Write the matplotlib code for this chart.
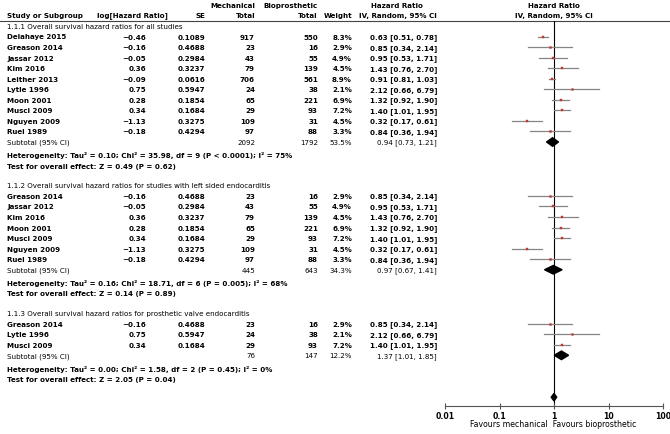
import matplotlib
matplotlib.use("Agg")
import matplotlib.pyplot as plt
import numpy as np

# ---------------- data ----------------
study_names = ["Delahaye 2015", "Greason 2014", "Jassar 2012", "Kim 2016", "Leither 2013",
               "Lytle 1996", "Moon 2001", "Musci 2009", "Nguyen 2009", "Ruel 1989"]
log_hr = [-0.46, -0.16, -0.05, 0.36, -0.09, 0.75, 0.28, 0.34, -1.13, -0.18]
se = [0.1089, 0.4688, 0.2984, 0.3237, 0.0616, 0.5947, 0.1854, 0.1684, 0.3275, 0.4294]
mech_total = [917, 23, 43, 79, 706, 24, 65, 29, 109, 97]
bio_total = [550, 16, 55, 139, 561, 38, 221, 93, 31, 88]
hr = [0.63, 0.85, 0.95, 1.43, 0.91, 2.12, 1.32, 1.40, 0.32, 0.84]
hr_lo = [0.51, 0.34, 0.53, 0.76, 0.81, 0.66, 0.92, 1.01, 0.17, 0.36]
hr_hi = [0.78, 2.14, 1.71, 2.70, 1.03, 6.79, 1.90, 1.95, 0.61, 1.94]

section_titles = ["1.1.1 Overall survival hazard ratios for all studies",
                  "1.1.2 Overall survival hazard ratios for studies with left sided endocarditis",
                  "1.1.3 Overall survival hazard ratios for prosthetic valve endocarditis"]
section_studies = [
    ["Delahaye 2015", "Greason 2014", "Jassar 2012", "Kim 2016", "Leither 2013",
     "Lytle 1996", "Moon 2001", "Musci 2009", "Nguyen 2009", "Ruel 1989"],
    ["Greason 2014", "Jassar 2012", "Kim 2016", "Moon 2001", "Musci 2009", "Nguyen 2009", "Ruel 1989"],
    ["Greason 2014", "Lytle 1996", "Musci 2009"],
]
section_weights = [
    [8.3, 2.9, 4.9, 4.5, 8.9, 2.1, 6.9, 7.2, 4.5, 3.3],
    [2.9, 4.9, 4.5, 6.9, 7.2, 4.5, 3.3],
    [2.9, 2.1, 7.2],
]
sub_mech = [2092, 445, 76]
sub_bio = [1792, 643, 147]
sub_weight = [53.5, 34.3, 12.2]
sub_hr = [0.94, 0.97, 1.37]
sub_lo = [0.73, 0.67, 1.01]
sub_hi = [1.21, 1.41, 1.85]
het_text = ["Heterogeneity: Tau\u00b2 = 0.10; Chi\u00b2 = 35.98, df = 9 (P < 0.0001); I\u00b2 = 75%",
            "Heterogeneity: Tau\u00b2 = 0.16; Chi\u00b2 = 18.71, df = 6 (P = 0.005); I\u00b2 = 68%",
            "Heterogeneity: Tau\u00b2 = 0.00; Chi\u00b2 = 1.58, df = 2 (P = 0.45); I\u00b2 = 0%"]
test_text = ["Test for overall effect: Z = 0.49 (P = 0.62)",
             "Test for overall effect: Z = 0.14 (P = 0.89)",
             "Test for overall effect: Z = 2.05 (P = 0.04)"]
overall_hr, overall_lo, overall_hi = 1.00, 0.89, 1.12
tick_values = [0.01, 0.1, 1, 10, 100]
tick_labels = ["0.01", "0.1", "1", "10", "100"]

# ---------------- layout ----------------
W, H = 670, 435
FS = 5.15
fig = plt.figure(figsize=(W / 100, H / 100), dpi=100)
tx = fig.add_axes([0, 0, 1, 1])
tx.set_xlim(0, W)
tx.set_ylim(H, 0)
tx.axis("off")

X_NAME = 7
X_LOG = 146
X_SE = 205
X_MECH = 255
X_BIO = 318
X_W = 352
X_HR = 437
PLOT_L, PLOT_R = 445, 663
PLOT_T, PLOT_B = 22, 407

ax = fig.add_axes([PLOT_L / W, 1 - PLOT_B / H, (PLOT_R - PLOT_L) / W, (PLOT_B - PLOT_T) / H])
ax.set_xscale("log")
ax.set_xlim(0.01, 100)
ax.set_ylim(PLOT_B, PLOT_T)
for s in ["left", "right", "top"]:
    ax.spines[s].set_visible(False)
ax.spines["bottom"].set_color("#555555")
ax.spines["bottom"].set_linewidth(0.8)
ax.set_yticks([])
ax.set_xticks(tick_values)
ax.set_xticklabels(tick_labels, fontsize=5.6, fontweight="bold")
ax.minorticks_off()
ax.tick_params(axis="x", direction="inout", length=5, width=0.8, color="#555555", pad=1)
ax.patch.set_alpha(0)
ax.axvline(1, color="black", lw=0.8, zorder=1)

def fmt(v):
    return ("\u2212%.2f" % -v) if v < 0 else "%.2f" % v

def txt(x, y, s, ha="left", bold=False, size=FS, color="black"):
    tx.text(x, y, s, ha=ha, va="center", fontsize=size,
            fontweight="bold" if bold else "normal", color=color)

# header
txt(X_MECH, 6, "Mechanical", ha="right", bold=True)
txt(X_BIO, 6, "Bioprosthetic", ha="right", bold=True)
txt(397, 6, "Hazard Ratio", ha="center", bold=True)
txt(554, 6, "Hazard Ratio", ha="center", bold=True)
txt(X_NAME, 16, "Study or Subgroup", bold=True)
txt(97, 16, "log[Hazard Ratio]", bold=True)
txt(X_SE, 16, "SE", ha="right", bold=True)
txt(X_MECH, 16, "Total", ha="right", bold=True)
txt(X_BIO, 16, "Total", ha="right", bold=True)
txt(X_W, 16, "Weight", ha="right", bold=True)
txt(X_HR, 16, "IV, Random, 95% CI", ha="right", bold=True)
txt(554, 16, "IV, Random, 95% CI", ha="center", bold=True)
tx.plot([0, W], [22, 22], color="#444444", lw=0.8)

ROW = 10.55
y = 27
for k, title in enumerate(section_titles):
    txt(X_NAME, y, title)
    y += 10.5
    for name, w in zip(section_studies[k], section_weights[k]):
        i = study_names.index(name)
        txt(X_NAME, y, name, bold=True)
        txt(X_LOG, y, fmt(log_hr[i]), ha="right", bold=True)
        txt(X_SE, y, "%.4f" % se[i], ha="right", bold=True)
        txt(X_MECH, y, str(mech_total[i]), ha="right", bold=True)
        txt(X_BIO, y, str(bio_total[i]), ha="right", bold=True)
        txt(X_W, y, "%.1f%%" % w, ha="right", bold=True)
        txt(X_HR, y, "%.2f [%.2f, %.2f]" % (hr[i], hr_lo[i], hr_hi[i]), ha="right", bold=True)
        ax.plot([hr_lo[i], hr_hi[i]], [y, y], color="#858585", lw=0.9, zorder=2)
        ax.plot([hr[i]], [y], marker="s", ms=1.1 + 0.09 * w, color="#c0392b",
                mec="#c0392b", mew=0.3, zorder=3)
        y += ROW
    txt(X_NAME, y, "Subtotal (95% CI)")
    txt(X_MECH, y, str(sub_mech[k]), ha="right")
    txt(X_BIO, y, str(sub_bio[k]), ha="right")
    txt(X_W, y, "%.1f%%" % sub_weight[k], ha="right")
    txt(X_HR, y, "%.2f [%.2f, %.2f]" % (sub_hr[k], sub_lo[k], sub_hi[k]), ha="right")
    ax.fill([sub_lo[k], sub_hr[k], sub_hi[k], sub_hr[k]], [y, y - 4.3, y, y + 4.3],
            color="black", zorder=4)
    y += 12.8
    txt(X_NAME, y, het_text[k], bold=True)
    y += 10.8
    txt(X_NAME, y, test_text[k], bold=True)
    y += 19.8

y_over = y - 1.5
ax.fill([overall_lo, overall_hr, overall_hi, overall_hr],
        [y_over, y_over - 3.8, y_over, y_over + 3.8], color="black", zorder=4)

fig.text((PLOT_L + 108) / W, 1 - 425 / H, "Favours mechanical  Favours bioprosthetic",
         ha="center", va="center", fontsize=5.6)

fig.savefig("out.png", dpi=100)
